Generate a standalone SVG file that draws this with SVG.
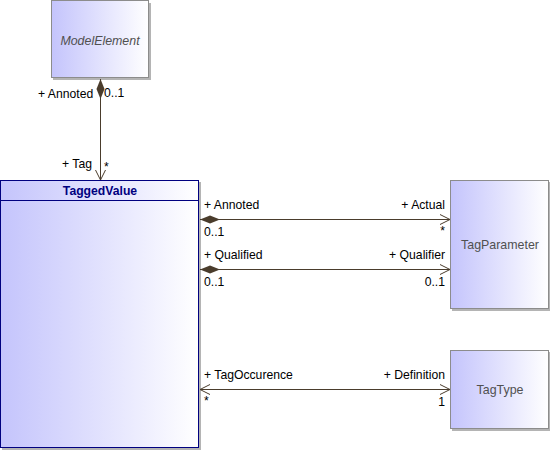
<svg xmlns="http://www.w3.org/2000/svg" width="550" height="450" viewBox="0 0 550 450">
<defs>
<linearGradient id="g" x1="0" y1="0" x2="1" y2="0">
<stop offset="0" stop-color="#c4c4fc"/>
<stop offset="1" stop-color="#ffffff"/>
</linearGradient>
<marker id="dia" markerWidth="22" markerHeight="10" refX="0" refY="5" orient="auto" markerUnits="userSpaceOnUse">
<path d="M0,5 L10,1 L20,5 L10,9 Z" fill="#4a3c2c"/>
</marker>
<marker id="arr" markerWidth="12" markerHeight="12" refX="11" refY="6" orient="auto-start-reverse" markerUnits="userSpaceOnUse">
<path d="M1,1 L11,6 L1,11" fill="none" stroke="#4a3c2c" stroke-width="1"/>
</marker>
</defs>
<style>
.cls{fill:url(#g);stroke:#8c8c8c;stroke-width:1}
.sh{fill:#b4b4b4}
.nm{font-family:"Liberation Sans",Arial,sans-serif;font-size:12.4px;fill:#505050;text-anchor:middle}
.lb{font-family:"Liberation Sans",Arial,sans-serif;font-size:12.2px;fill:#000}
.cn{fill:none;stroke:#4a3c2c;stroke-width:1}
</style>
<g id="ModelElement">
<rect class="sh" x="53" y="3" width="98" height="77"/>
<rect class="cls" x="51.5" y="0.5" width="97" height="77"/>
<text class="nm" x="100" y="45" font-style="italic">ModelElement</text>
</g>
<g id="TaggedValue">
<rect class="sh" x="2" y="182" width="199" height="268"/>
<rect x="0.5" y="180.5" width="198" height="267" fill="url(#g)" stroke="#000080" stroke-width="1"/>
<line x1="0.5" y1="200.5" x2="198.5" y2="200.5" stroke="#000080" stroke-width="1"/>
<text x="100" y="195" font-family="'Liberation Sans',Arial,sans-serif" font-size="12.2" font-weight="bold" fill="#000080" text-anchor="middle">TaggedValue</text>
</g>
<g id="TagParameter">
<rect class="sh" x="452" y="182" width="98" height="129"/>
<rect class="cls" x="450.5" y="180.5" width="98" height="128"/>
<text class="nm" x="500" y="249">TagParameter</text>
</g>
<g id="TagType">
<rect class="sh" x="452" y="352" width="98" height="79"/>
<rect class="cls" x="450.5" y="350.5" width="98" height="78"/>
<text class="nm" x="500" y="394">TagType</text>
</g>
<g id="connectors">
<line class="cn" x1="100.5" y1="79" x2="100.5" y2="180" marker-start="url(#dia)" marker-end="url(#arr)"/>
<line class="cn" x1="200" y1="219.5" x2="450" y2="219.5" marker-start="url(#dia)" marker-end="url(#arr)"/>
<line class="cn" x1="200" y1="269.5" x2="450" y2="269.5" marker-start="url(#dia)" marker-end="url(#arr)"/>
<line class="cn" x1="200" y1="389.5" x2="450" y2="389.5" marker-start="url(#arr)" marker-end="url(#arr)"/>
<text class="lb" x="38" y="98">+ Annoted</text>
<text class="lb" x="104" y="97">0..1</text>
<text class="lb" x="62" y="168">+ Tag</text>
<text class="lb" x="104" y="171">*</text>
<text class="lb" x="204" y="209">+ Annoted</text>
<text class="lb" x="204" y="236">0..1</text>
<text class="lb" x="445" y="209" text-anchor="end">+ Actual</text>
<text class="lb" x="445" y="235" text-anchor="end">*</text>
<text class="lb" x="204" y="259">+ Qualified</text>
<text class="lb" x="204" y="286">0..1</text>
<text class="lb" x="445" y="259" text-anchor="end">+ Qualifier</text>
<text class="lb" x="445" y="286" text-anchor="end">0..1</text>
<text class="lb" x="204" y="379">+ TagOccurence</text>
<text class="lb" x="204" y="405">*</text>
<text class="lb" x="445" y="379" text-anchor="end">+ Definition</text>
<text class="lb" x="445" y="406" text-anchor="end">1</text>
</g>
</svg>
